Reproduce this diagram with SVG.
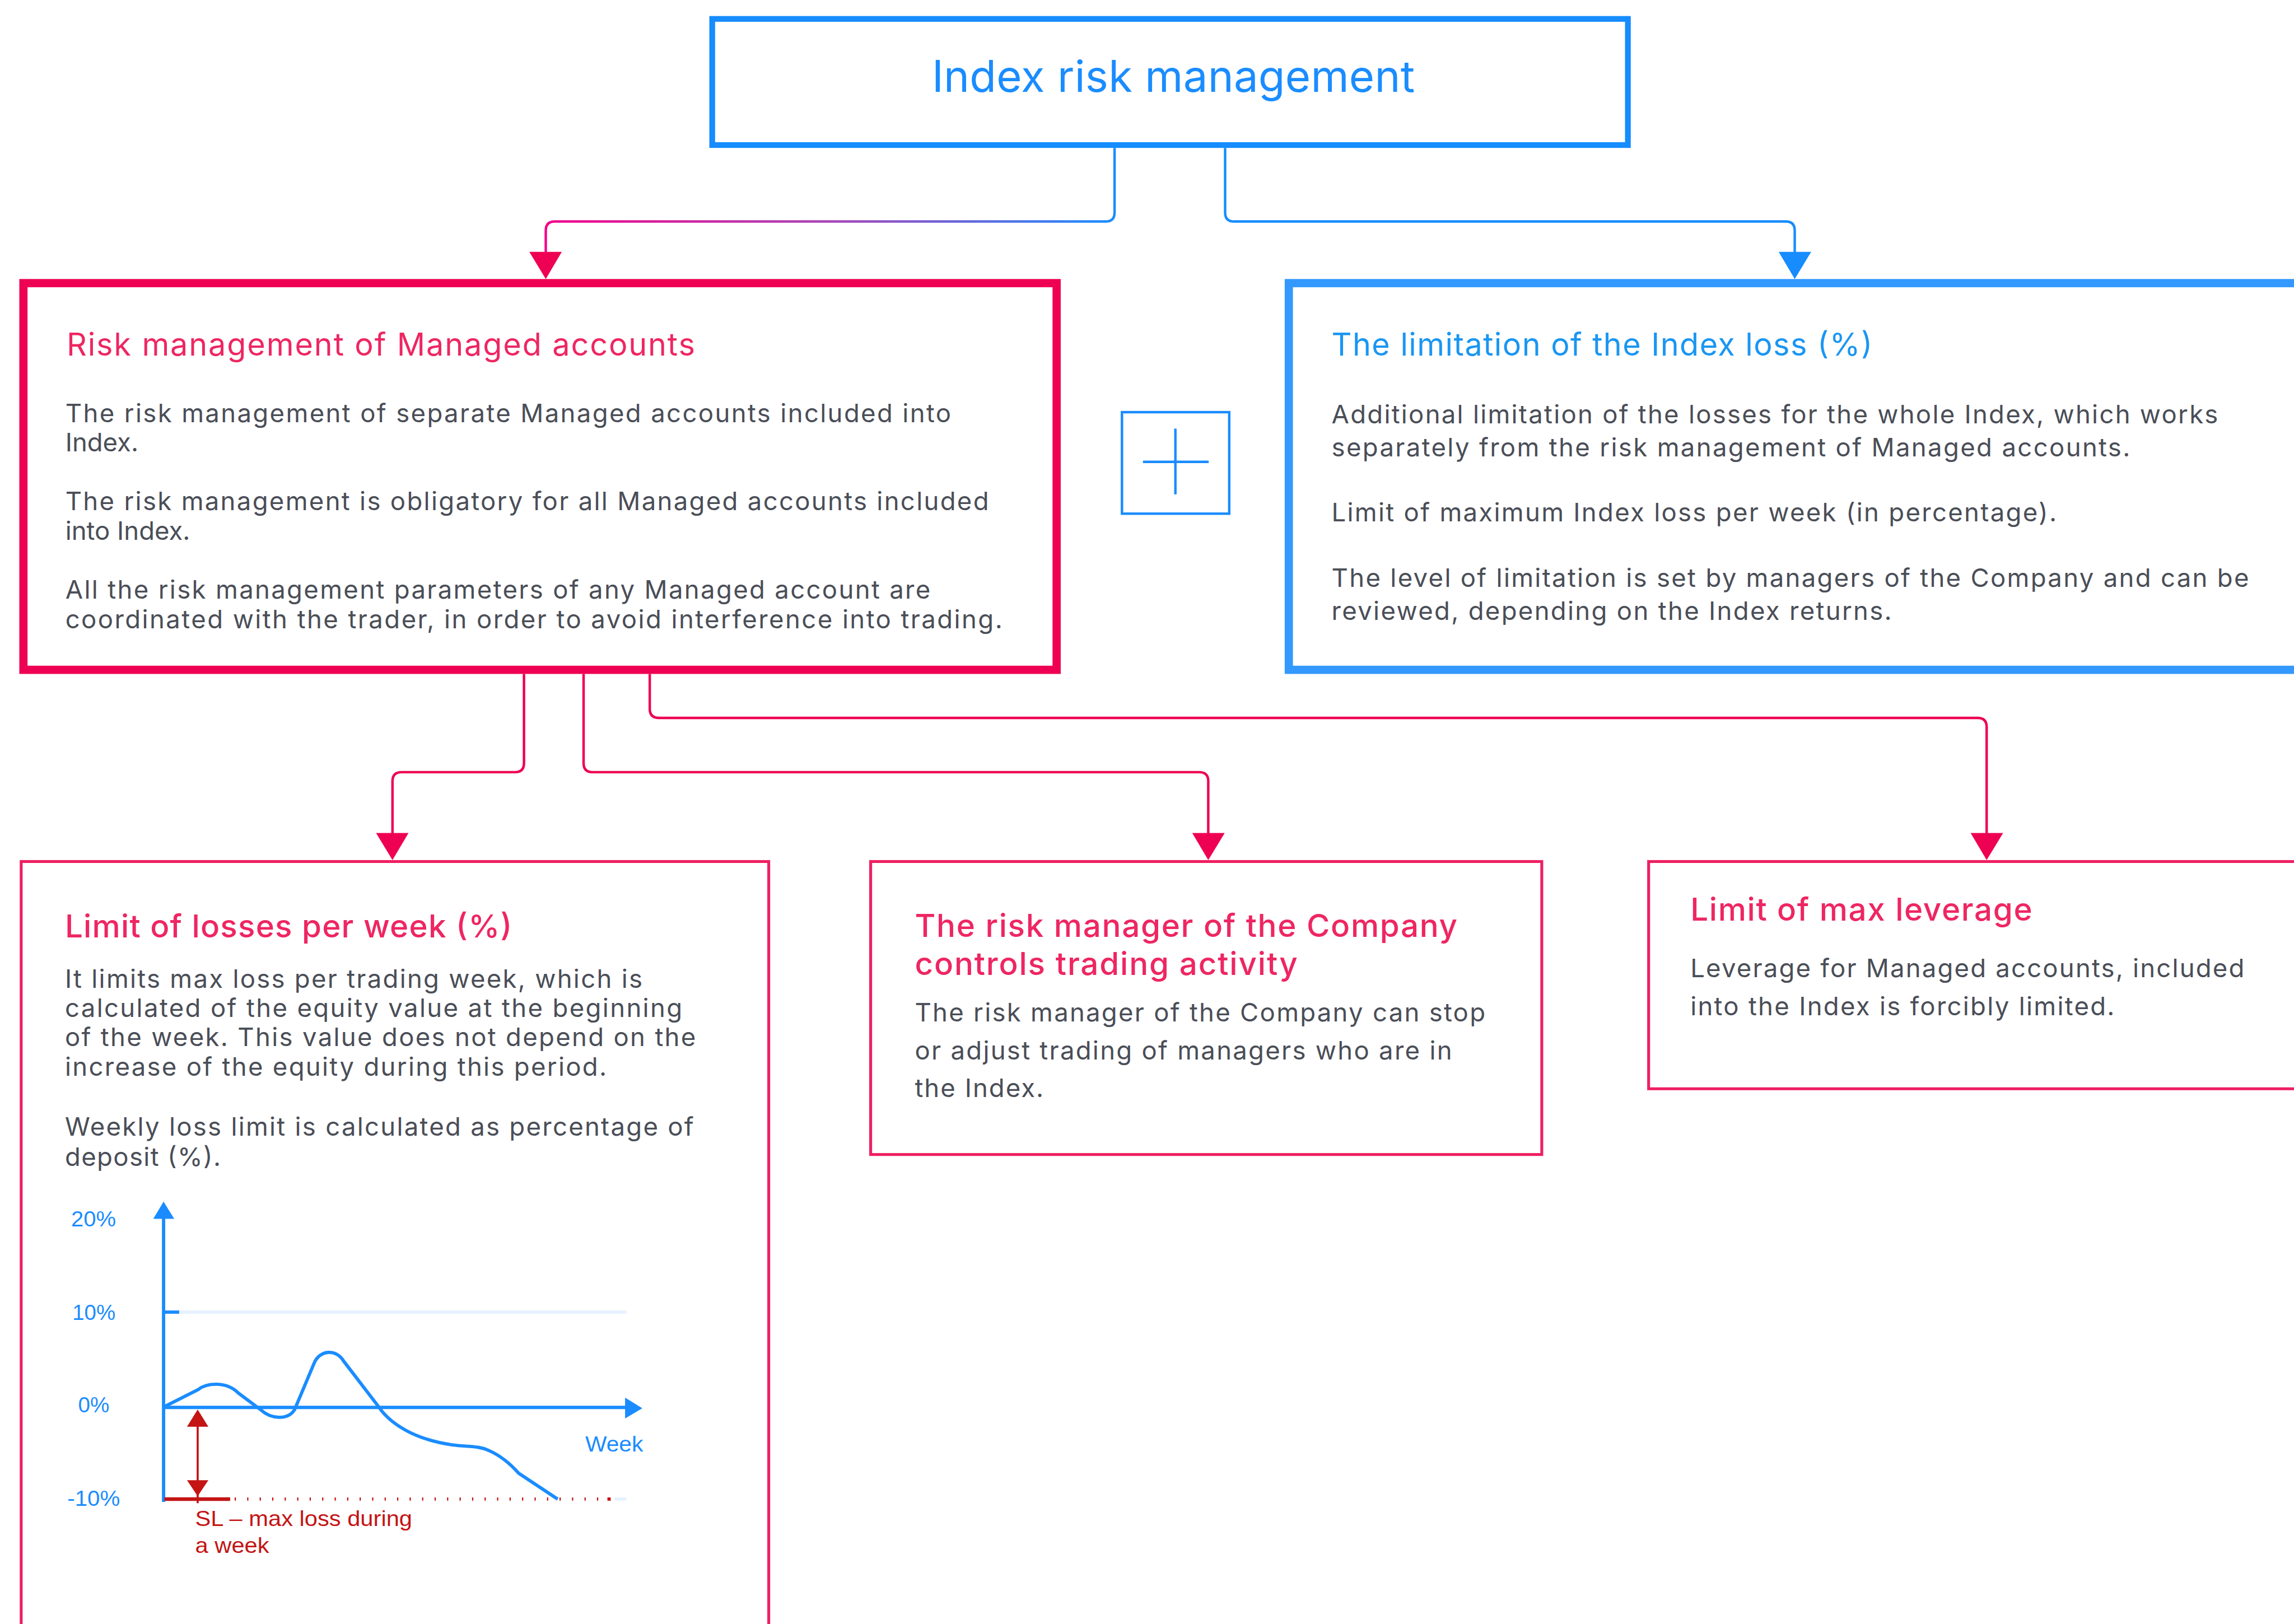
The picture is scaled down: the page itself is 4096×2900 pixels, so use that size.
<svg xmlns="http://www.w3.org/2000/svg" width="4096" height="2900" viewBox="0 0 4096 2900">
<defs>
<style>
.t{font-family:Inter,"Noto Sans","Liberation Sans",sans-serif}
.body{font-size:62px;fill:#4a4e57}
.ttl{font-size:76px;fill:#ee2662}
.ttlm{font-size:77px;fill:#ee2662;font-weight:500}
.btl{font-size:76px;fill:#1a96f2}
.ax{font-family:"Liberation Sans",Arial,sans-serif;font-size:54px;fill:#1a8cff}
.sl{font-family:"Liberation Sans",Arial,sans-serif;font-size:54px;fill:#c41414}
.con{fill:none;stroke:#ee0052;stroke-width:6}
.box2{fill:none;stroke:#ee1f62;stroke-width:7}
</style>
<linearGradient id="gl" gradientUnits="userSpaceOnUse" x1="1328" y1="0" x2="2712" y2="0">
<stop offset="0" stop-color="#f2048a"/>
<stop offset="0.5" stop-color="#a846b8"/>
<stop offset="1" stop-color="#1a8cff"/>
</linearGradient>
</defs>
<rect width="4096" height="2900" fill="#ffffff"/>
<g transform="scale(0.73381)">
<g id="connectors">
<path d="M2712 360 V517 Q2712 539 2690 539 H1350 Q1328 539 1328 561 V615" fill="none" stroke="url(#gl)" stroke-width="6"/>
<polygon points="1288,613 1367,613 1328,679" fill="#ee0052"/>
<path d="M2981 360 V517 Q2981 539 3003 539 H4345 Q4367 539 4367 561 V615" fill="none" stroke="#168cff" stroke-width="6"/>
<polygon points="4328,613 4407,613 4367,679" fill="#168cff"/>
<path class="con" d="M1275 1640 V1857 Q1275 1879 1253 1879 H977 Q955 1879 955 1901 V2029"/>
<polygon points="915,2027 994,2027 955,2093" fill="#ee0052"/>
<path class="con" d="M1420 1640 V1857 Q1420 1879 1442 1879 H2918 Q2940 1879 2940 1901 V2029"/>
<polygon points="2901,2027 2980,2027 2940,2093" fill="#ee0052"/>
<path class="con" d="M1581 1640 V1725 Q1581 1747 1603 1747 H4812 Q4834 1747 4834 1769 V2029"/>
<polygon points="4795,2027 4874,2027 4834,2093" fill="#ee0052"/>
</g>
<g id="node-top">
<rect x="1733" y="46" width="2228" height="307" fill="none" stroke="#168cff" stroke-width="14"/>
<text class="t" x="2855" y="224" text-anchor="middle" font-size="106" fill="#1a8cff" textLength="1175" lengthAdjust="spacing">Index risk management</text>
</g>
<g id="node-managed">
<rect x="57" y="689" width="2514" height="941" fill="none" stroke="#ee0052" stroke-width="20"/>
<text class="t ttl" x="162" y="865" textLength="1529" lengthAdjust="spacing">Risk management of Managed accounts</text>
<text class="t body" x="159" y="1027" textLength="2155" lengthAdjust="spacing">The risk management of separate Managed accounts included into</text>
<text class="t body" x="159" y="1098">Index.</text>
<text class="t body" x="159" y="1242" textLength="2247" lengthAdjust="spacing">The risk management is obligatory for all Managed accounts included</text>
<text class="t body" x="159" y="1314">into Index.</text>
<text class="t body" x="159" y="1457" textLength="2105" lengthAdjust="spacing">All the risk management parameters of any Managed account are</text>
<text class="t body" x="159" y="1529" textLength="2280" lengthAdjust="spacing">coordinated with the trader, in order to avoid interference into trading.</text>
</g>
<g id="node-plus">
<rect x="2730" y="1003" width="261" height="247" fill="none" stroke="#1a8cff" stroke-width="6"/>
<line x1="2860" y1="1043" x2="2860" y2="1203" stroke="#1a8cff" stroke-width="6"/>
<line x1="2781" y1="1124" x2="2941" y2="1124" stroke="#1a8cff" stroke-width="6"/>
</g>
<g id="node-index-loss">
<rect x="3136" y="689" width="2600" height="941" fill="none" stroke="#3399ff" stroke-width="20"/>
<text class="t btl" x="3240" y="865" textLength="1316" lengthAdjust="spacing">The limitation of the Index loss (%)</text>
<text class="t body" x="3240" y="1030" textLength="2157" lengthAdjust="spacing">Additional limitation of the losses for the whole Index, which works</text>
<text class="t body" x="3240" y="1110" textLength="1943" lengthAdjust="spacing">separately from the risk management of Managed accounts.</text>
<text class="t body" x="3240" y="1269" textLength="1764" lengthAdjust="spacing">Limit of maximum Index loss per week (in percentage).</text>
<text class="t body" x="3240" y="1428" textLength="2232" lengthAdjust="spacing">The level of limitation is set by managers of the Company and can be</text>
<text class="t body" x="3240" y="1508" textLength="1363" lengthAdjust="spacing">reviewed, depending on the Index returns.</text>
</g>
<g id="node-weekly">
<rect class="box2" x="51.5" y="2096.5" width="1819" height="2000"/>
<text class="t ttlm" x="158" y="2281" textLength="1088" lengthAdjust="spacing">Limit of losses per week (%)</text>
<text class="t body" x="158" y="2404" textLength="1405" lengthAdjust="spacing">It limits max loss per trading week, which is</text>
<text class="t body" x="158" y="2475" textLength="1502" lengthAdjust="spacing">calculated of the equity value at the beginning</text>
<text class="t body" x="158" y="2546" textLength="1535" lengthAdjust="spacing">of the week. This value does not depend on the</text>
<text class="t body" x="158" y="2618" textLength="1318" lengthAdjust="spacing">increase of the equity during this period.</text>
<text class="t body" x="158" y="2763" textLength="1530" lengthAdjust="spacing">Weekly loss limit is calculated as percentage of</text>
<text class="t body" x="158" y="2837" textLength="379" lengthAdjust="spacing">deposit (%).</text>
<g id="chart">
<line x1="436" y1="3193" x2="1524" y2="3193" stroke="#e6f2ff" stroke-width="8"/>
<line x1="398" y1="3193" x2="436" y2="3193" stroke="#1a8cff" stroke-width="8"/>
<line x1="1496" y1="3648" x2="1524" y2="3648" stroke="#e6f2ff" stroke-width="8"/>
<line x1="398" y1="3655" x2="398" y2="2960" stroke="#1a8cff" stroke-width="8"/>
<polygon points="373,2966 424,2966 398,2924" fill="#1a8cff"/>
<line x1="398" y1="3425" x2="1525" y2="3425" stroke="#1a8cff" stroke-width="8"/>
<polygon points="1521,3401 1521,3452 1563,3427" fill="#1a8cff"/>
<path d="M400 3423 L483 3381 C505 3364 552 3362 580 3390 L636 3432 C658 3452 700 3458 717 3430 L764 3318 C778 3284 818 3282 836 3312 L921 3423 C950 3466 1010 3503 1100 3516 C1140 3521 1165 3518 1190 3530 C1215 3541 1238 3558 1262 3585 L1357 3648" fill="none" stroke="#1a8cff" stroke-width="8" stroke-linejoin="round"/>
<line x1="400" y1="3648" x2="560" y2="3648" stroke="#c41414" stroke-width="9"/>
<line x1="571" y1="3648" x2="1470" y2="3648" stroke="#c41414" stroke-width="8" stroke-dasharray="3 27.4"/>
<rect x="1478" y="3644" width="8" height="8" fill="#c41414"/>
<line x1="481" y1="3468" x2="481" y2="3658" stroke="#c41414" stroke-width="5"/>
<polygon points="455,3472 507,3472 481,3430" fill="#c41414"/>
<polygon points="455,3602 507,3602 481,3641" fill="#c41414"/>
<text class="ax" x="173" y="2985" textLength="109" lengthAdjust="spacingAndGlyphs">20%</text>
<text class="ax" x="176" y="3212" textLength="105" lengthAdjust="spacingAndGlyphs">10%</text>
<text class="ax" x="190" y="3437" textLength="76" lengthAdjust="spacingAndGlyphs">0%</text>
<text class="ax" x="164" y="3664" textLength="128" lengthAdjust="spacingAndGlyphs">-10%</text>
<text class="ax" x="1424" y="3532" textLength="141" lengthAdjust="spacingAndGlyphs">Week</text>
<text class="sl" x="475" y="3713" textLength="528" lengthAdjust="spacingAndGlyphs">SL – max loss during</text>
<text class="sl" x="475" y="3779" textLength="180" lengthAdjust="spacingAndGlyphs">a week</text>
</g>
</g>
<g id="node-risk-manager">
<rect class="box2" x="2118.5" y="2096.5" width="1633" height="713"/>
<text class="t ttlm" x="2226" y="2280" textLength="1320" lengthAdjust="spacing">The risk manager of the Company</text>
<text class="t ttlm" x="2226" y="2372" textLength="931" lengthAdjust="spacing">controls trading activity</text>
<text class="t body" x="2226" y="2485" textLength="1388" lengthAdjust="spacing">The risk manager of the Company can stop</text>
<text class="t body" x="2226" y="2578" textLength="1307" lengthAdjust="spacing">or adjust trading of managers who are in</text>
<text class="t body" x="2226" y="2670" textLength="313" lengthAdjust="spacing">the Index.</text>
</g>
<g id="node-leverage">
<rect class="box2" x="4011.5" y="2096.5" width="1700" height="553"/>
<text class="t ttlm" x="4113" y="2240" textLength="832" lengthAdjust="spacing">Limit of max leverage</text>
<text class="t body" x="4113" y="2378" textLength="1348" lengthAdjust="spacing">Leverage for Managed accounts, included</text>
<text class="t body" x="4113" y="2470" textLength="1032" lengthAdjust="spacing">into the Index is forcibly limited.</text>
</g>
</g>
</svg>
